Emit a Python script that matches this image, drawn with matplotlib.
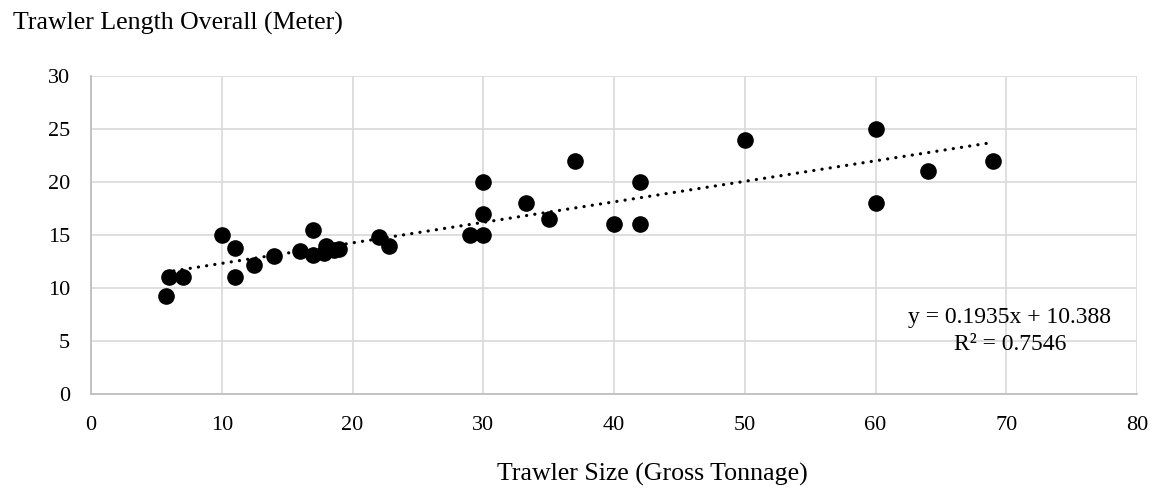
import matplotlib
matplotlib.use("Agg")
import matplotlib.pyplot as plt
import numpy as np

# Gross tonnage vs length overall for the sampled trawlers
gross_tonnage = [5.7, 6, 7, 10, 11, 11, 12.5, 14, 16, 17, 17, 17.8, 18, 18.6, 19,
                 22, 22.8, 29, 30, 30, 30, 33.3, 35, 37, 40, 42, 42, 50, 60, 60, 64, 69]
length_overall = [9.2, 11, 11, 15, 13.8, 11, 12.2, 13, 13.5, 15.5, 13.1, 13.3, 14, 13.6, 13.7,
                  14.8, 14.0, 15, 15, 17, 20, 18, 16.5, 22, 16, 16, 20, 24, 25, 18, 21, 22]

# Linear trend
slope = 0.1935
intercept = 10.388
r_squared = 0.7546

x_ticks = [0, 10, 20, 30, 40, 50, 60, 70, 80]
y_ticks = [0, 5, 10, 15, 20, 25, 30]

plt.rcParams['font.family'] = ['Liberation Serif', 'DejaVu Serif']

W, H = 1155, 492
fig = plt.figure(figsize=(W / 100, H / 100), dpi=100)
ax = fig.add_axes([91 / W, (H - 394) / H, (1137 - 91) / W, (394 - 76) / H])

ax.set_xlim(0, 80)
ax.set_ylim(0, 30)
ax.set_xticks(x_ticks)
ax.set_yticks(y_ticks)
ax.grid(True, color='#d9d9d9', linewidth=1.2)
ax.set_axisbelow(True)
for side in ['top', 'right']:
    ax.spines[side].set_visible(False)
for side in ['left', 'bottom']:
    ax.spines[side].set_color('#bfbfbf')
    ax.spines[side].set_linewidth(1.3)
ax.tick_params(length=0, labelsize=16, colors='black')
ax.tick_params(axis='x', pad=16)
ax.tick_params(axis='y', pad=15)

xs = np.array([min(gross_tonnage), max(gross_tonnage)])
ax.plot(xs, slope * xs + intercept, color='black', linewidth=2.3,
        linestyle=(0, (0.05, 2.55)), dash_capstyle='round', zorder=3)

ax.scatter(gross_tonnage, length_overall, s=120, color='black', zorder=4)

fig.text(1010 / W, (H - 317) / H, f"y = {slope}x + {intercept}",
         ha='center', va='center', fontsize=17)
fig.text(1010 / W, (H - 345) / H, f"R² = {r_squared}",
         ha='center', va='center', fontsize=17)

fig.text(13 / W, (H - 23) / H, "Trawler Length Overall (Meter)",
         ha='left', va='center', fontsize=18.6)
fig.text(652 / W, (H - 474) / H, "Trawler Size (Gross Tonnage)",
         ha='center', va='center', fontsize=18.6)

fig.savefig("out.png", dpi=100)
